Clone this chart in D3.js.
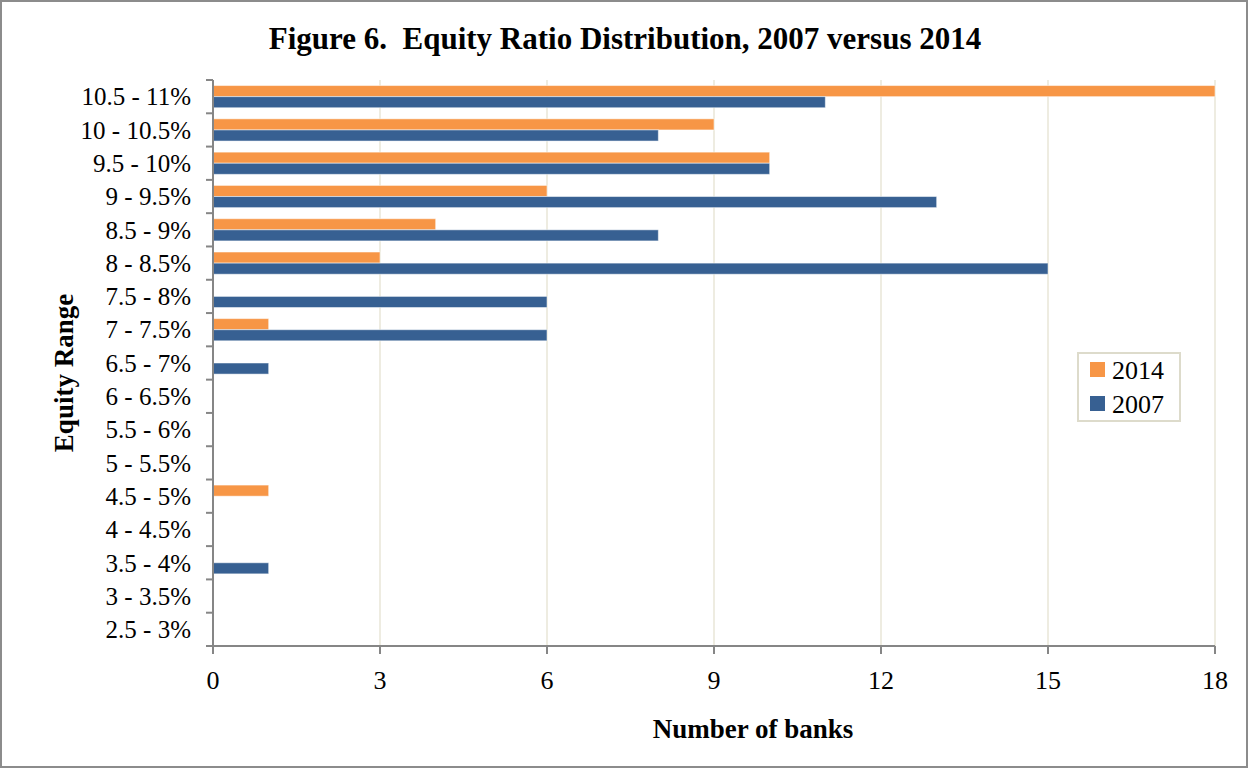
<!DOCTYPE html>
<html>
<head>
<meta charset="utf-8">
<script src="https://cdn.jsdelivr.net/npm/d3@7"></script>
<style>
  body { margin: 0; background: #fff; }
  svg text { font-family: "Liberation Serif", "DejaVu Serif", serif; fill: #000; }
</style>
</head>
<body>
<div id="chart"></div>
<script>
// equity ranges, top to bottom as in the figure
var categories = ["10.5 - 11%", "10 - 10.5%", "9.5 - 10%", "9 - 9.5%", "8.5 - 9%", "8 - 8.5%",
                  "7.5 - 8%", "7 - 7.5%", "6.5 - 7%", "6 - 6.5%", "5.5 - 6%", "5 - 5.5%",
                  "4.5 - 5%", "4 - 4.5%", "3.5 - 4%", "3 - 3.5%", "2.5 - 3%"];
var series = ["2014", "2007"];
var values2014 = [18, 9, 10, 6, 4, 3, 0, 1, 0, 0, 0, 0, 1, 0, 0, 0, 0];
var values2007 = [11, 8, 10, 13, 8, 15, 6, 6, 1, 0, 0, 0, 0, 0, 1, 0, 0];
var xTicks = [0, 3, 6, 9, 12, 15, 18];
var colors = { "2014": "#F79646", "2007": "#376092" };

var W = 1249, H = 769;
var plotLeft = 213, plotRight = 1215, plotTop = 80, plotBottom = 646;

var svg = d3.select("#chart").append("svg")
            .attr("width", W)
            .attr("height", H)
            .attr("display", "block");

// outer frame
svg.append("rect")
   .attr("x", 1).attr("y", 1)
   .attr("width", W - 3).attr("height", H - 3)
   .style("fill", "none")
   .style("stroke", "#8c8c8c")
   .style("stroke-width", 2);

var x = d3.scaleLinear().domain([0, 18]).range([plotLeft, plotRight]);
var y = d3.scaleBand().domain(categories).range([plotTop, plotBottom]).padding(0);
var ySub = d3.scaleBand().domain(series).range([0, y.bandwidth()]).paddingInner(0).paddingOuter(0.5);

// gridlines
svg.selectAll("line.grid")
   .data(xTicks.slice(1))
   .enter()
   .append("line")
   .attr("class", "grid")
   .attr("x1", function (d) { return x(d); })
   .attr("x2", function (d) { return x(d); })
   .attr("y1", plotTop)
   .attr("y2", plotBottom)
   .style("stroke", "#EEECE1")
   .style("stroke-width", 2);

// bars
var rows = categories.map(function (c, i) {
  return { cat: c, vals: [{ s: "2014", v: values2014[i] }, { s: "2007", v: values2007[i] }] };
});

var groups = svg.selectAll("g.row")
                .data(rows)
                .enter()
                .append("g")
                .attr("class", "row")
                .attr("transform", function (d) { return "translate(0," + y(d.cat) + ")"; });

groups.selectAll("rect")
      .data(function (d) { return d.vals.filter(function (e) { return e.v > 0; }); })
      .enter()
      .append("rect")
      .attr("x", x(0))
      .attr("y", function (d) { return ySub(d.s); })
      .attr("width", function (d) { return x(d.v) - x(0); })
      .attr("height", ySub.bandwidth())
      .style("fill", function (d) { return colors[d.s]; })
      .style("stroke", "#fff")
      .style("stroke-opacity", 0.5)
      .style("stroke-width", 1);

// y axis: line, boundary ticks and labels
var axisColor = "#868686";
svg.append("line")
   .attr("x1", plotLeft).attr("x2", plotLeft)
   .attr("y1", plotTop).attr("y2", plotBottom)
   .style("stroke", axisColor).style("stroke-width", 2);

var bounds = categories.map(function (c) { return y(c); }).concat([plotBottom]);
svg.selectAll("line.ytick")
   .data(bounds)
   .enter()
   .append("line")
   .attr("class", "ytick")
   .attr("x1", plotLeft - 7).attr("x2", plotLeft)
   .attr("y1", function (d) { return d; })
   .attr("y2", function (d) { return d; })
   .style("stroke", axisColor).style("stroke-width", 2);

svg.selectAll("text.ylab")
   .data(categories)
   .enter()
   .append("text")
   .attr("class", "ylab")
   .attr("x", 191)
   .attr("y", function (d) { return y(d) + y.bandwidth() / 2; })
   .attr("dy", "0.35em")
   .attr("text-anchor", "end")
   .style("font-size", "25px")
   .text(function (d) { return d; });

// x axis
svg.append("line")
   .attr("x1", plotLeft).attr("x2", plotRight)
   .attr("y1", plotBottom).attr("y2", plotBottom)
   .style("stroke", axisColor).style("stroke-width", 2);

svg.selectAll("line.xtick")
   .data(xTicks)
   .enter()
   .append("line")
   .attr("class", "xtick")
   .attr("x1", function (d) { return x(d); })
   .attr("x2", function (d) { return x(d); })
   .attr("y1", plotBottom).attr("y2", plotBottom + 8)
   .style("stroke", axisColor).style("stroke-width", 2);

svg.selectAll("text.xlab")
   .data(xTicks)
   .enter()
   .append("text")
   .attr("class", "xlab")
   .attr("x", function (d) { return x(d); })
   .attr("y", 689)
   .attr("text-anchor", "middle")
   .style("font-size", "26px")
   .text(function (d) { return d; });

// titles
svg.append("text")
   .attr("x", 625).attr("y", 49)
   .attr("text-anchor", "middle")
   .style("font-size", "31px")
   .style("font-weight", "bold")
   .style("white-space", "pre")
   .text("Figure 6.  Equity Ratio Distribution, 2007 versus 2014");

svg.append("text")
   .attr("x", 753).attr("y", 738)
   .attr("text-anchor", "middle")
   .style("font-size", "27px")
   .style("font-weight", "bold")
   .text("Number of banks");

svg.append("text")
   .attr("transform", "translate(73,373) rotate(-90)")
   .attr("text-anchor", "middle")
   .style("font-size", "27px")
   .style("font-weight", "bold")
   .text("Equity Range");

// legend
var legend = svg.append("g").attr("transform", "translate(1078,353)");
legend.append("rect")
      .attr("width", 102).attr("height", 68)
      .style("fill", "#fff")
      .style("stroke", "#DDDBCB")
      .style("stroke-width", 2);

var items = legend.selectAll("g.item")
                  .data(series)
                  .enter()
                  .append("g")
                  .attr("class", "item")
                  .attr("transform", function (d, i) { return "translate(0," + (17 + i * 34) + ")"; });

items.append("rect")
     .attr("x", 12).attr("y", -8)
     .attr("width", 15).attr("height", 15)
     .style("fill", function (d) { return colors[d]; });

items.append("text")
     .attr("x", 34).attr("y", 0)
     .attr("dy", "0.35em")
     .style("font-size", "26px")
     .text(function (d) { return d; });
</script>
</body>
</html>
